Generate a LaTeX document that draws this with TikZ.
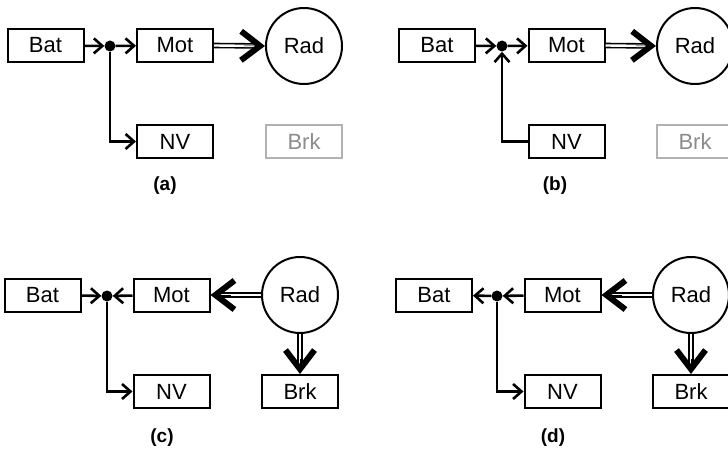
\documentclass[tikz,border=0pt]{standalone}
\usepackage{fontspec}
\setmainfont{Liberation Sans}
\usetikzlibrary{arrows.meta,calc}
\tikzset{
  box/.style={draw, line width=2pt, minimum width=76pt, minimum height=33pt, inner sep=0pt, font=\fontsize{22}{26}\selectfont},
  ghost/.style={box, draw=black!30, text=black!45},
  wheel/.style={draw, circle, line width=2pt, minimum size=76pt, inner sep=0pt, font=\fontsize{22}{26}\selectfont},
  junc/.style={circle, fill, inner sep=0pt, minimum size=11pt},
  wire/.style={line width=2.6pt, -{Straight Barb[length=8.5pt,width=15pt]}},
  shaft/.style={double, double distance=2.4pt, line width=1.6pt},
  headtip/.style={line width=0.4pt, -{Straight Barb[length=19pt,width=29pt,line width=6pt]}},
  panellabel/.style={font=\fontsize{19}{22}\selectfont\bfseries}
}
\begin{document}
\begin{tikzpicture}[x=1pt,y=-1pt]
\useasboundingbox (0,0) rectangle (728,449);
% ---------- (a) ----------
\node[box] (aBat) at (45.5,45.5) {Bat};
\node[junc] (aJ) at (110,46) {};
\node[box] (aMot) at (175,45.5) {Mot};
\node[wheel] (aRad) at (304,46) {Rad};
\node[box] (aNV) at (175,141.5) {NV};
\node[ghost] (aBrk) at (304,141.5) {Brk};
\node[panellabel] (aL) at (165,186) {(a)};
\draw[wire] (aBat) -- (aJ);
\draw[wire] (aJ) -- (aMot);
\draw[wire] (aJ) |- (aNV);
\draw[shaft, shorten >=7pt] (aMot.east) -- (aRad.west);
\draw[headtip, shorten <=30pt] (aMot.east) -- (aRad.west);
% ---------- (b) ----------
\node[box] (bBat) at (437,45.5) {Bat};
\node[junc] (bJ) at (502,46) {};
\node[box] (bMot) at (566.5,45.5) {Mot};
\node[wheel] (bRad) at (695,46) {Rad};
\node[box] (bNV) at (566.5,141.5) {NV};
\node[ghost] (bBrk) at (695,141.5) {Brk};
\node[panellabel] (bL) at (555,186) {(b)};
\draw[wire] (bBat) -- (bJ);
\draw[wire] (bJ) -- (bMot);
\draw[wire] (bNV) -| (bJ);
\draw[shaft, shorten >=7pt] (bMot.east) -- (bRad.west);
\draw[headtip, shorten <=30pt] (bMot.east) -- (bRad.west);
% ---------- (c) ----------
\node[box] (cBat) at (42.5,295) {Bat};
\node[junc] (cJ) at (107,296) {};
\node[box] (cMot) at (171.5,295) {Mot};
\node[wheel] (cRad) at (300,295) {Rad};
\node[box] (cNV) at (171.5,391.5) {NV};
\node[box] (cBrk) at (300,391.5) {Brk};
\node[panellabel] (cL) at (162,438) {(c)};
\draw[wire] (cBat) -- (cJ);
\draw[wire] (cMot) -- (cJ);
\draw[wire] (cJ) |- (cNV);
\draw[shaft, shorten >=7pt] (cRad.west) -- (cMot.east);
\draw[headtip, shorten <=30pt] (cRad.west) -- (cMot.east);
\draw[shaft, shorten >=7pt] (cRad.south) -- (cBrk.north);
\draw[headtip, shorten <=25pt] (cRad.south) -- (cBrk.north);
% ---------- (d) ----------
\node[box] (dBat) at (434,295) {Bat};
\node[junc] (dJ) at (497,296) {};
\node[box] (dMot) at (562.5,295) {Mot};
\node[wheel] (dRad) at (691,295) {Rad};
\node[box] (dNV) at (562.5,391.5) {NV};
\node[box] (dBrk) at (691,391.5) {Brk};
\node[panellabel] (dL) at (553,438) {(d)};
\draw[wire] (dJ) -- (dBat);
\draw[wire] (dMot) -- (dJ);
\draw[wire] (dJ) |- (dNV);
\draw[shaft, shorten >=7pt] (dRad.west) -- (dMot.east);
\draw[headtip, shorten <=30pt] (dRad.west) -- (dMot.east);
\draw[shaft, shorten >=7pt] (dRad.south) -- (dBrk.north);
\draw[headtip, shorten <=25pt] (dRad.south) -- (dBrk.north);
\end{tikzpicture}
\end{document}
